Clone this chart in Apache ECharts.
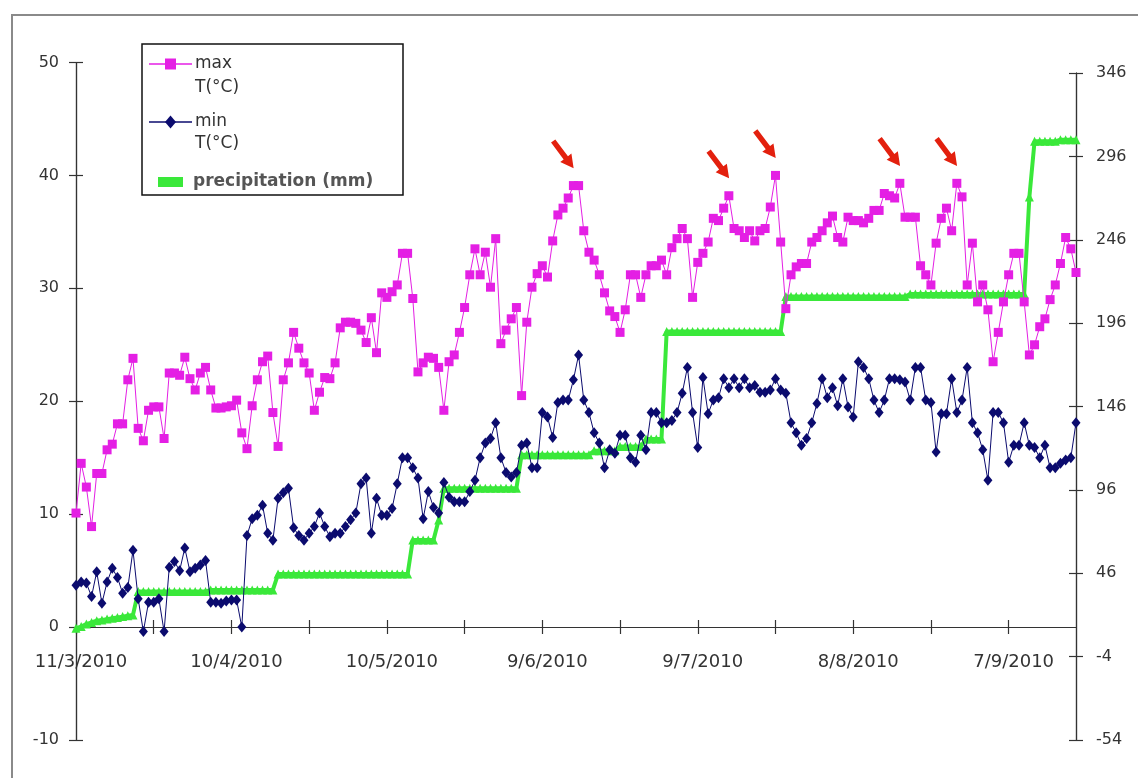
<!DOCTYPE html>
<html>
<head>
<meta charset="utf-8">
<script src="https://cdn.jsdelivr.net/npm/echarts@6/dist/echarts.min.js"></script>
<style>
html,body{margin:0;padding:0;background:#fff;}
#chart{width:1138px;height:778px;}
</style>
</head>
<body>
<div id="chart"></div>
<script>
// ---- data ----
const startDay = { year: 2010, month: 3, day: 11 };   // first category: 11/3/2010
const maxT = [10.1,14.5,12.4,8.9,13.6,13.6,15.7,16.2,18,18,
  21.9,23.8,17.6,16.5,19.2,19.5,19.5,16.7,22.5,22.5,
  22.3,23.9,22,21,22.5,23,21,19.4,19.4,19.5,
  19.6,20.1,17.2,15.8,19.6,21.9,23.5,24,19,16,
  21.9,23.4,26.1,24.7,23.4,22.5,19.2,20.8,22.1,22,
  23.4,26.5,27,27,26.9,26.3,25.2,27.4,24.3,29.6,
  29.2,29.7,30.3,33.1,33.1,29.1,22.6,23.4,23.9,23.8,
  23,19.2,23.5,24.1,26.1,28.3,31.2,33.5,31.2,33.2,
  30.1,34.4,25.1,26.3,27.3,28.3,20.5,27,30.1,31.3,
  32,31,34.2,36.5,37.1,38,39.1,39.1,35.1,33.2,
  32.5,31.2,29.6,28,27.5,26.1,28.1,31.2,31.2,29.2,
  31.2,32,32,32.5,31.2,33.6,34.4,35.3,34.4,29.2,
  32.3,33.1,34.1,36.2,36,37.1,38.2,35.3,35.1,34.5,
  35.1,34.2,35.1,35.3,37.2,40,34.1,28.2,31.2,31.9,
  32.2,32.2,34.1,34.5,35.1,35.8,36.4,34.5,34.1,36.3,
  36,36,35.8,36.2,36.9,36.9,38.4,38.2,38,39.3,
  36.3,36.3,36.3,32,31.2,30.3,34,36.2,37.1,35.1,
  39.3,38.1,30.3,34,28.8,30.3,28.1,23.5,26.1,28.8,
  31.2,33.1,33.1,28.8,24.1,25,26.6,27.3,29,30.3,
  32.2,34.5,33.5,31.4];
const minT = [3.7,4,3.9,2.7,4.9,2.1,4,5.2,4.4,3,
  3.5,6.8,2.5,-0.4,2.2,2.2,2.5,-0.4,5.3,5.8,
  5,7,4.9,5.2,5.5,5.9,2.2,2.2,2.1,2.3,
  2.4,2.4,0,8.1,9.6,9.9,10.8,8.3,7.7,11.4,
  11.9,12.3,8.8,8.1,7.7,8.3,8.9,10.1,8.9,8,
  8.3,8.3,8.9,9.5,10.1,12.7,13.2,8.3,11.4,9.9,
  9.9,10.5,12.7,15,15,14.1,13.2,9.6,12,10.6,
  10.1,12.8,11.5,11.1,11.1,11.1,12,13,15,16.3,
  16.7,18.1,15,13.7,13.3,13.7,16.1,16.3,14.1,14.1,
  19,18.6,16.8,19.9,20.1,20.1,21.9,24.1,20.1,19,
  17.2,16.3,14.1,15.7,15.4,17,17,15,14.6,17,
  15.7,19,19,18.1,18.1,18.3,19,20.7,23,19,
  15.9,22.1,18.9,20.1,20.3,22,21.2,22,21.2,22,
  21.2,21.4,20.8,20.8,21,22,21,20.7,18.1,17.2,
  16.1,16.7,18.1,19.8,22,20.3,21.2,19.6,22,19.5,
  18.6,23.5,23,22,20.1,19,20.1,22,22,21.9,
  21.7,20.1,23,23,20.1,19.9,15.5,18.9,18.9,22,
  19,20.1,23,18.1,17.2,15.7,13,19,19,18.1,
  14.6,16.1,16.1,18.1,16.1,15.9,15,16.1,14.1,14.1,
  14.5,14.8,15,18.1];
const precip = [13,14,15.5,16.5,17.5,18,18.5,19,19.5,20,20.5,21,
  35,35,35,35,35,35,35,35,35,35,35,35,35,35,
  36,36,36,36,36,36,36,36,36,36,36,36,36,
  45.5,45.5,45.5,45.5,45.5,45.5,45.5,45.5,45.5,45.5,45.5,45.5,45.5,
  45.5,45.5,45.5,45.5,45.5,45.5,45.5,45.5,45.5,45.5,45.5,45.5,45.5,
  66,66,66,66,66,
  78,
  97,97,97,97,97,97,97,97,97,97,97,97,97,97,97,
  117,117,117,117,117,117,117,117,117,117,117,117,117,117,
  119.5,119.5,119.5,119.5,119.5,
  122,122,122,122,122,
  126.5,126.5,126.5,126.5,
  191,191,191,191,191,191,191,191,191,191,191,191,
  191,191,191,191,191,191,191,191,191,191,191,
  212,212,212,212,212,212,212,212,212,212,212,212,
  212,212,212,212,212,212,212,212,212,212,212,212,
  213.5,213.5,213.5,213.5,213.5,213.5,213.5,213.5,213.5,213.5,213.5,213.5,
  213.5,213.5,213.5,213.5,213.5,213.5,213.5,213.5,213.5,213.5,213.5,
  271.6,
  305,305,305,305,305,
  306,306,306,306];
const arrowDays = [96, 126, 135, 159, 170];       // peaks marked with red arrows
const tempTicks = [-10, 0, 10, 20, 30, 40, 50];
const precipTicks = [-54, -4, 46, 96, 146, 196, 246, 296, 346];

// category labels d/m/yyyy
const dates = maxT.map((_, i) => {
  const d = new Date(startDay.year, startDay.month - 1, startDay.day + i);
  return d.getDate() + '/' + (d.getMonth() + 1) + '/' + d.getFullYear();
});

const FONT = 'DejaVu Sans';
const AX = '#333';
const MAG = '#e41fe4';
const NAVY = '#0b0b6e';
const GREEN = '#3ae83a';
const RED = '#e3200e';

const chart = echarts.init(document.getElementById('chart'));

const G = (top, bottom) => ({ left: 76, right: 62, top: top, bottom: bottom, outerBoundsMode: 'none', containLabel: false });
// temperature plot area: 50 at top, -10 at bottom; x-axis line drawn at T = 0
const tempGrid = G(62.5, 38);
const precipGrid = G(73, 38);
const zeroGrid = G(62.5, 151);   // its bottom edge coincides with T = 0

const tickStyle = { color: AX, width: 1.2 };
const hiddenCat = (grid) => ({ type: 'category', gridIndex: grid, data: dates, boundaryGap: false, show: false });
const hiddenVal = (grid) => ({ type: 'value', gridIndex: grid, show: false, splitLine: { show: false } });
const dateAxis = (grid, inside) => ({
  type: 'category', gridIndex: grid, data: dates, boundaryGap: false, position: 'bottom',
  axisLine: { show: true, onZero: false, lineStyle: tickStyle },
  axisTick: { show: true, inside: inside, interval: 14, length: 7, lineStyle: tickStyle },
  axisLabel: { show: !inside, interval: 29, margin: 26, fontSize: 18, fontFamily: FONT, color: AX, padding: [0, 0, 0, 10] },
  splitLine: { show: false }
});
const tempAxis = (grid, inside) => ({
  type: 'value', gridIndex: grid, position: 'left',
  min: tempTicks[0], max: tempTicks[tempTicks.length - 1], interval: 10,
  axisLine: { show: true, onZero: false, lineStyle: tickStyle },
  axisTick: { show: true, inside: inside, length: 7, lineStyle: tickStyle },
  axisLabel: { show: !inside, margin: 17, fontSize: 16, fontFamily: FONT, color: AX },
  splitLine: { show: false }
});
const precipAxis = (grid, inside) => ({
  type: 'value', gridIndex: grid, position: 'right',
  min: precipTicks[0], max: precipTicks[precipTicks.length - 1],
  axisLine: { show: true, onZero: false, lineStyle: tickStyle },
  axisTick: { show: true, inside: inside, length: 7, customValues: precipTicks, lineStyle: tickStyle },
  axisLabel: { show: !inside, margin: 20, fontSize: 16, fontFamily: FONT, color: AX, customValues: precipTicks },
  splitLine: { show: false }
});

const arrowPath = 'path://M-2.5,-17 L2.5,-17 L2.5,4 L6.5,4 L0,17 L-6.5,4 L-2.5,4 Z';

chart.setOption({
  animation: false,
  backgroundColor: '#fff',
  grid: [tempGrid, precipGrid, tempGrid, precipGrid, zeroGrid, zeroGrid],
  xAxis: [
    hiddenCat(0), hiddenCat(1), hiddenCat(2), hiddenCat(3),
    dateAxis(4, false), dateAxis(5, true)
  ],
  yAxis: [
    tempAxis(0, false),
    precipAxis(1, false),
    tempAxis(2, true),
    precipAxis(3, true),
    hiddenVal(4), hiddenVal(5)
  ],
  series: [
    { name: 'precipitation (mm)', type: 'line', xAxisIndex: 1, yAxisIndex: 1, data: precip,
      symbol: 'triangle', symbolSize: 9, showAllSymbol: true, z: 2,
      lineStyle: { color: GREEN, width: 4 }, itemStyle: { color: GREEN } },
    { name: 'min T(°C)', type: 'line', xAxisIndex: 0, yAxisIndex: 0, data: minT,
      symbol: 'diamond', symbolSize: [9, 11], showAllSymbol: true, z: 3,
      lineStyle: { color: NAVY, width: 1 }, itemStyle: { color: NAVY } },
    { name: 'max T(°C)', type: 'line', xAxisIndex: 0, yAxisIndex: 0, data: maxT,
      symbol: 'rect', symbolSize: 9, showAllSymbol: true, z: 4,
      lineStyle: { color: MAG, width: 1 }, itemStyle: { color: MAG },
      markPoint: {
        symbol: arrowPath, symbolSize: [14, 34], symbolRotate: 37, symbolOffset: [-10, -31],
        itemStyle: { color: RED }, label: { show: false },
        data: arrowDays.map(d => ({ coord: [d, maxT[d]] }))
      } }
  ],
  graphic: [
    { type: 'rect', z: 0, shape: { x: 12, y: 15, width: 1200, height: 800 },
      style: { fill: 'none', stroke: '#8a8a8a', lineWidth: 2 } },
    { type: 'group', z: 20, children: [
      { type: 'rect', shape: { x: 142, y: 44, width: 261, height: 151 },
        style: { fill: '#fff', stroke: '#111', lineWidth: 1.5 } },
      { type: 'line', shape: { x1: 149, y1: 64, x2: 192, y2: 64 }, style: { stroke: MAG, lineWidth: 1.5 } },
      { type: 'rect', shape: { x: 165, y: 58.5, width: 11, height: 11 }, style: { fill: MAG } },
      { type: 'text', x: 195, y: 64, style: { text: 'max', font: '17px "DejaVu Sans"', fill: AX, verticalAlign: 'middle' } },
      { type: 'text', x: 195, y: 88, style: { text: 'T(°C)', font: '17px "DejaVu Sans"', fill: AX, verticalAlign: 'middle' } },
      { type: 'line', shape: { x1: 149, y1: 122, x2: 192, y2: 122 }, style: { stroke: NAVY, lineWidth: 1.5 } },
      { type: 'polygon', shape: { points: [[170.5, 115.5], [176, 122], [170.5, 128.5], [165, 122]] }, style: { fill: NAVY } },
      { type: 'text', x: 195, y: 122, style: { text: 'min', font: '17px "DejaVu Sans"', fill: AX, verticalAlign: 'middle' } },
      { type: 'text', x: 195, y: 144, style: { text: 'T(°C)', font: '17px "DejaVu Sans"', fill: AX, verticalAlign: 'middle' } },
      { type: 'rect', shape: { x: 158, y: 177, width: 25, height: 10 }, style: { fill: GREEN } },
      { type: 'text', x: 193, y: 182, style: { text: 'precipitation (mm)', font: 'bold 17px "DejaVu Sans"', fill: '#555', verticalAlign: 'middle' } }
    ] }
  ]
});
</script>
</body>
</html>
